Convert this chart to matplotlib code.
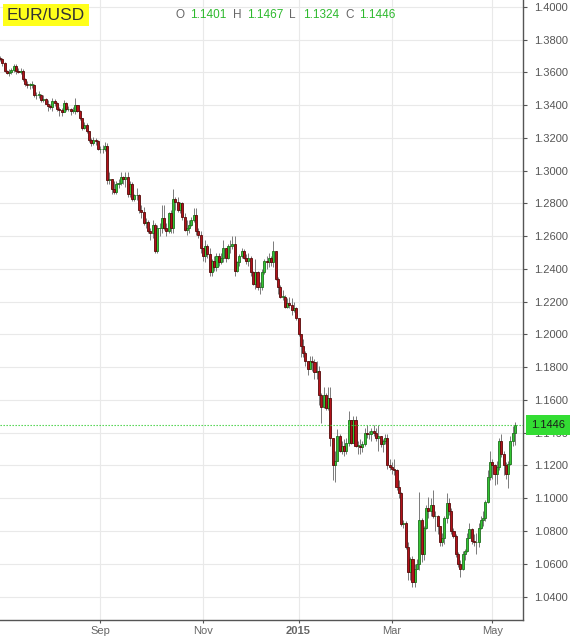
import matplotlib
matplotlib.use("Agg")
import matplotlib.pyplot as plt
import matplotlib.transforms as mtransforms
import numpy as np
import pandas as pd

plt.rcParams['font.family'] = ['Liberation Sans', 'DejaVu Sans']

# ---- data: EUR/USD daily candles, Jul 2014 - May 2015 ----
closes = [
    # Jul 2014
    1.3680, 1.3655, 1.3610, 1.3595, 1.3605, 1.3615, 1.3640, 1.3610, 1.3605, 1.3610,
    1.3560, 1.3530, 1.3525, 1.3525, 1.3525, 1.3460, 1.3465, 1.3465, 1.3430, 1.3440,
    1.3410, 1.3395, 1.3390,
    # Aug
    1.3425, 1.3415, 1.3375, 1.3370, 1.3360, 1.3415, 1.3375, 1.3375, 1.3365, 1.3365,
    1.3400, 1.3365, 1.3320, 1.3260, 1.3280, 1.3240, 1.3190, 1.3170, 1.3190, 1.3180,
    1.3130,
    # Sep
    1.3130, 1.3130, 1.3150, 1.2945, 1.2950, 1.2890, 1.2870, 1.2920, 1.2925, 1.2960,
    1.2950, 1.2960, 1.2860, 1.2920, 1.2830, 1.2850, 1.2850, 1.2760, 1.2750, 1.2680,
    1.2690, 1.2630,
    # Oct
    1.2620, 1.2670, 1.2510, 1.2650, 1.2650, 1.2710, 1.2650, 1.2630, 1.2740, 1.2650,
    1.2830, 1.2810, 1.2760, 1.2800, 1.2720, 1.2640, 1.2650, 1.2670, 1.2700, 1.2730,
    1.2630, 1.2610, 1.2530,
    # Nov
    1.2480, 1.2540, 1.2490, 1.2380, 1.2450, 1.2410, 1.2480, 1.2440, 1.2470, 1.2530,
    1.2470, 1.2540, 1.2540, 1.2550, 1.2390, 1.2440, 1.2480, 1.2510, 1.2470, 1.2450,
    # Dec
    1.2470, 1.2380, 1.2310, 1.2380, 1.2290, 1.2290, 1.2380, 1.2450, 1.2440, 1.2470,
    1.2440, 1.2510, 1.2340, 1.2290, 1.2230, 1.2230, 1.2170, 1.2190, 1.2180, 1.2150,
    1.2160, 1.2100,
    # Jan 2015
    1.2000, 1.1930, 1.1890, 1.1840, 1.1790, 1.1840, 1.1830, 1.1770, 1.1780, 1.1630,
    1.1560, 1.1630, 1.1550, 1.1610, 1.1370, 1.1200, 1.1230, 1.1380, 1.1290, 1.1320,
    1.1290,
    # Feb
    1.1340, 1.1480, 1.1340, 1.1480, 1.1320, 1.1320, 1.1310, 1.1330, 1.1400, 1.1390,
    1.1390, 1.1410, 1.1400, 1.1370, 1.1380, 1.1330, 1.1350, 1.1370, 1.1200, 1.1190,
    # Mar
    1.1180, 1.1170, 1.1070, 1.1030, 1.0840, 1.0850, 1.0700, 1.0550, 1.0630, 1.0490,
    1.0570, 1.0600, 1.0870, 1.0660, 1.0820, 1.0940, 1.0920, 1.0960, 1.0890, 1.0890,
    1.0830, 1.0730,
    # Apr
    1.0760, 1.0880, 1.0970, 1.0920, 1.0800, 1.0770, 1.0660, 1.0600, 1.0570, 1.0660,
    1.0680, 1.0760, 1.0810, 1.0740, 1.0730, 1.0730, 1.0820, 1.0870, 1.0880, 1.0980,
    1.1130, 1.1220,
    # May
    1.1200, 1.1150, 1.1190, 1.1350, 1.1270, 1.1200, 1.1150, 1.1210, 1.1350, 1.1401,
    1.1446,
]

highs = [
    1.3700, 1.3690, 1.3665, 1.3615, 1.3620, 1.3630, 1.3650, 1.3650, 1.3625, 1.3630,
    1.3620, 1.3565, 1.3545, 1.3535, 1.3545, 1.3530, 1.3480, 1.3490, 1.3470, 1.3460,
    1.3445, 1.3430, 1.3410,
    1.3445, 1.3440, 1.3420, 1.3390, 1.3385, 1.3430, 1.3420, 1.3395, 1.3385, 1.3390,
    1.3445, 1.3400, 1.3370, 1.3325, 1.3295, 1.3290, 1.3240, 1.3200, 1.3205, 1.3200,
    1.3190,
    1.3150, 1.3160, 1.3175, 1.3170, 1.2990, 1.2950, 1.2935, 1.2935, 1.2950, 1.2990,
    1.2970, 1.2990, 1.2995, 1.2935, 1.2930, 1.2860, 1.2895, 1.2860, 1.2790, 1.2780,
    1.2710, 1.2700,
    1.2650, 1.2700, 1.2680, 1.2670, 1.2680, 1.2790, 1.2790, 1.2680, 1.2750, 1.2760,
    1.2890, 1.2840, 1.2840, 1.2810, 1.2810, 1.2740, 1.2700, 1.2700, 1.2720, 1.2770,
    1.2770, 1.2650, 1.2630,
    1.2530, 1.2580, 1.2550, 1.2530, 1.2460, 1.2480, 1.2500, 1.2500, 1.2500, 1.2580,
    1.2530, 1.2550, 1.2580, 1.2600, 1.2600, 1.2450, 1.2490, 1.2530, 1.2520, 1.2490,
    1.2500, 1.2480, 1.2390, 1.2460, 1.2390, 1.2320, 1.2400, 1.2460, 1.2480, 1.2500,
    1.2480, 1.2570, 1.2510, 1.2350, 1.2300, 1.2270, 1.2240, 1.2220, 1.2230, 1.2220,
    1.2200, 1.2170,
    1.2090, 1.1980, 1.1970, 1.1900, 1.1840, 1.1870, 1.1870, 1.1850, 1.1840, 1.1810,
    1.1640, 1.1680, 1.1640, 1.1680, 1.1680, 1.1370, 1.1290, 1.1420, 1.1390, 1.1350,
    1.1360,
    1.1370, 1.1530, 1.1480, 1.1500, 1.1500, 1.1350, 1.1360, 1.1350, 1.1430, 1.1450,
    1.1410, 1.1430, 1.1450, 1.1430, 1.1450, 1.1380, 1.1360, 1.1390, 1.1390, 1.1240,
    1.1220, 1.1240, 1.1180, 1.1110, 1.1040, 1.0870, 1.0860, 1.0730, 1.0640, 1.0650,
    1.0600, 1.0630, 1.1040, 1.0880, 1.0830, 1.0960, 1.1010, 1.1000, 1.1050, 1.0920,
    1.0900, 1.0830,
    1.0790, 1.0890, 1.1030, 1.1000, 1.0940, 1.0820, 1.0780, 1.0670, 1.0620, 1.0680,
    1.0690, 1.0790, 1.0850, 1.0820, 1.0780, 1.0790, 1.0850, 1.0890, 1.0920, 1.0990,
    1.1170, 1.1290,
    1.1240, 1.1210, 1.1230, 1.1370, 1.1390, 1.1290, 1.1220, 1.1230, 1.1380, 1.1440,
    1.1467,
]

lows = [
    1.3670, 1.3640, 1.3600, 1.3590, 1.3580, 1.3590, 1.3605, 1.3590, 1.3595, 1.3590,
    1.3545, 1.3515, 1.3505, 1.3500, 1.3505, 1.3450, 1.3440, 1.3445, 1.3420, 1.3420,
    1.3405, 1.3365, 1.3375,
    1.3365, 1.3395, 1.3365, 1.3335, 1.3335, 1.3365, 1.3365, 1.3365, 1.3340, 1.3350,
    1.3345, 1.3360, 1.3310, 1.3250, 1.3255, 1.3230, 1.3175, 1.3150, 1.3160, 1.3160,
    1.3125,
    1.3110, 1.3110, 1.3120, 1.2920, 1.2920, 1.2860, 1.2860, 1.2860, 1.2895, 1.2910,
    1.2920, 1.2900, 1.2840, 1.2840, 1.2815, 1.2815, 1.2820, 1.2745, 1.2710, 1.2670,
    1.2650, 1.2620,
    1.2580, 1.2590, 1.2500, 1.2500, 1.2600, 1.2620, 1.2640, 1.2600, 1.2620, 1.2620,
    1.2620, 1.2760, 1.2750, 1.2740, 1.2700, 1.2630, 1.2610, 1.2620, 1.2660, 1.2690,
    1.2610, 1.2590, 1.2500,
    1.2450, 1.2440, 1.2470, 1.2360, 1.2360, 1.2390, 1.2390, 1.2420, 1.2430, 1.2440,
    1.2440, 1.2460, 1.2500, 1.2520, 1.2360, 1.2380, 1.2420, 1.2470, 1.2460, 1.2430,
    1.2420, 1.2360, 1.2300, 1.2280, 1.2270, 1.2250, 1.2270, 1.2370, 1.2400, 1.2410,
    1.2420, 1.2410, 1.2330, 1.2250, 1.2220, 1.2210, 1.2160, 1.2160, 1.2160, 1.2120,
    1.2140, 1.2090,
    1.1990, 1.1860, 1.1860, 1.1810, 1.1750, 1.1790, 1.1780, 1.1730, 1.1730, 1.1570,
    1.1460, 1.1550, 1.1540, 1.1540, 1.1320, 1.1110, 1.1100, 1.1240, 1.1280, 1.1270,
    1.1260,
    1.1270, 1.1320, 1.1330, 1.1340, 1.1310, 1.1270, 1.1270, 1.1280, 1.1320, 1.1370,
    1.1360, 1.1350, 1.1380, 1.1350, 1.1290, 1.1310, 1.1280, 1.1330, 1.1180, 1.1170,
    1.1150, 1.1140, 1.1050, 1.1000, 1.0830, 1.0820, 1.0690, 1.0500, 1.0500, 1.0460,
    1.0460, 1.0570, 1.0560, 1.0610, 1.0620, 1.0810, 1.0880, 1.0890, 1.0880, 1.0800,
    1.0780, 1.0710,
    1.0710, 1.0720, 1.0850, 1.0900, 1.0780, 1.0760, 1.0640, 1.0580, 1.0520, 1.0560,
    1.0620, 1.0670, 1.0760, 1.0720, 1.0710, 1.0660, 1.0700, 1.0810, 1.0830, 1.0860,
    1.0970, 1.1110,
    1.1120, 1.1080, 1.1090, 1.1170, 1.1250, 1.1140, 1.1120, 1.1060, 1.1200, 1.1320,
    1.1324,
]

first_open = 1.3690
holidays = ['2014-12-25', '2015-01-01']
tick_months = ['2014-09', '2014-11', '2015-01', '2015-03', '2015-05']
tick_labels = ['Sep', 'Nov', '2015', 'Mar', 'May']
last = {'O': 1.1401, 'H': 1.1467, 'L': 1.1324, 'C': 1.1446}

dates = pd.bdate_range('2014-07-01', '2015-05-15')
dates = dates[~dates.isin(pd.to_datetime(holidays))]

c = np.array(closes)
h = np.array(highs)
l = np.array(lows)
o = np.concatenate([[first_open], c[:-1]])
x = np.arange(len(c))

up = c >= o
col_up, col_dn = '#33c633', '#b3121a'
edge_up, edge_dn = '#1f701f', '#560909'

fig = plt.figure(figsize=(5.70, 6.38), dpi=100)
ax = fig.add_axes([0.0, 1 - 620 / 638, 523 / 570, 620 / 638])

# wicks
ax.vlines(x, l, h, color='#7a7a7a', lw=0.7, zorder=2)
# bodies
bottoms = np.minimum(o, c)
heights = np.maximum(np.abs(c - o), 0.0003)
ax.bar(x[up], heights[up], bottom=bottoms[up], width=0.9,
       color=col_up, edgecolor=edge_up, linewidth=0.6, zorder=3)
ax.bar(x[~up], heights[~up], bottom=bottoms[~up], width=0.9,
       color=col_dn, edgecolor=edge_dn, linewidth=0.6, zorder=3)

# last price line + box
ax.axhline(last['C'], color='#3ccf3c', ls=(0, (1.2, 1.5)), lw=0.8, zorder=4)
trans = mtransforms.blended_transform_factory(ax.transAxes, ax.transData)
ax.text(1.016, last['C'], '{:.4f}'.format(last['C']), transform=trans,
        ha='left', va='center', fontsize=8, color='#1a1a1a', zorder=10,
        clip_on=False,
        bbox=dict(boxstyle='square,pad=0.45', fc='#33dd33', ec='none'))

# axes
ax.set_xlim(0, 229.5)
ax.set_ylim(1.02565, 1.40427)
yt = np.round(np.arange(1.04, 1.4001, 0.02), 2)
ax.set_yticks(yt)
ax.set_yticklabels(['{:.4f}'.format(v) for v in yt])
ax.yaxis.tick_right()

tick_pos = []
for m in tick_months:
    tick_pos.append(int(np.argmax(dates >= pd.Timestamp(m + '-01'))))
ax.set_xticks(tick_pos)
ax.set_xticklabels(tick_labels)
for lab in ax.get_xticklabels():
    if lab.get_text() == '2015':
        lab.set_fontweight('bold')
        lab.set_color('#333333')

ax.tick_params(axis='y', length=3, width=0.8, pad=5, labelsize=8,
               colors='#555555', labelcolor='#555555', direction='out')
ax.tick_params(axis='x', length=2.5, width=0.8, pad=1.5, labelsize=8,
               colors='#555555', labelcolor='#666666', direction='out')

for s in ['top', 'left']:
    ax.spines[s].set_visible(False)
for s in ['right', 'bottom']:
    ax.spines[s].set_color('#555555')
    ax.spines[s].set_linewidth(1.0)

ax.grid(True, color='#e9e9e9', lw=0.8, zorder=0)
ax.set_axisbelow(True)

# header
fig.text(0.012, 1 - 15 / 638, 'EUR/USD', fontsize=12.5, color='#333333',
         ha='left', va='center',
         bbox=dict(boxstyle='square,pad=0.2', fc='#ffff1a', ec='none'))

ohlc_x = [176, 233, 289, 345]
gy = 1 - 15 / 638
for (k, v), px in zip(last.items(), ohlc_x):
    fig.text(px / 570, gy, k, fontsize=8.5, color='#666666', ha='left', va='center')
    fig.text((px + 14) / 570, gy, '{:.4f}'.format(v), fontsize=8.5,
             color='#2db92d', ha='left', va='center')

fig.savefig('out.png', dpi=100)
